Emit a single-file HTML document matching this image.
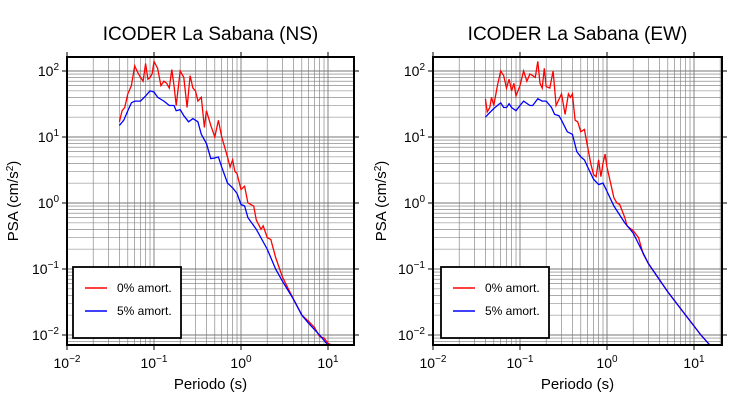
<!DOCTYPE html>
<html><head><meta charset="utf-8"><style>
body{margin:0;background:#fff;}
svg text{font-family:"Liberation Sans",sans-serif;fill:#000;}
</style></head><body>
<svg id="s" width="730" height="400" xmlns="http://www.w3.org/2000/svg"></svg>
<script>
const S=document.getElementById('s');let h='';
const YT=57,YB=345;
function ly(v){return 203-66*Math.log10(v);}
function plot(x0,x1,tx,title,red,blue,lg){
 const lx=T=>x0+87*(Math.log10(T)+2);
 const id='c'+x0;
 h+=`<clipPath id="${id}"><rect x="${x0}" y="${YT}" width="${x1-x0}" height="${YB-YT}"/></clipPath>`;
 for(let e=-2;e<=1;e++)for(let m=1;m<10;m++){const x=lx(m*Math.pow(10,e));if(x>x0&&x<x1)h+=`<line x1="${x}" y1="${YT}" x2="${x}" y2="${YB}" stroke="#777" stroke-width="${m==1?0.9:0.6}"/>`;}
 for(let e=-3;e<=2;e++)for(let m=1;m<10;m++){const y=ly(m*Math.pow(10,e));if(y>YT&&y<YB)h+=`<line x1="${x0}" y1="${y}" x2="${x1}" y2="${y}" stroke="#777" stroke-width="${m==1?0.9:0.6}"/>`;}
 for(let e=-2;e<=1;e++){const x=lx(Math.pow(10,e));h+=`<line x1="${x}" y1="${YB}" x2="${x}" y2="${YB+5}" stroke="#000"/><line x1="${x}" y1="${YT}" x2="${x}" y2="${YT-5}" stroke="#000"/>`;
  h+=`<text x="${x}" y="${YB+23}" font-size="14" text-anchor="middle">10<tspan dy="-6" font-size="10">${e<0?'−'+(-e):e}</tspan></text>`;}
 for(let e=-2;e<=2;e++){const y=ly(Math.pow(10,e));h+=`<line x1="${x0}" y1="${y}" x2="${x0-5}" y2="${y}" stroke="#000"/><line x1="${x1}" y1="${y}" x2="${x1+5}" y2="${y}" stroke="#000"/>`;
  h+=`<text x="${x0-8}" y="${y+5}" font-size="14" text-anchor="end">10<tspan dy="-6" font-size="10">${e<0?'−'+(-e):e}</tspan></text>`;}
 const path=(d,c)=>{h+=`<polyline clip-path="url(#${id})" fill="none" stroke="${c}" stroke-width="1.3" points="${d.map(p=>lx(p[0]).toFixed(1)+','+ly(p[1]).toFixed(1)).join(' ')}"/>`;};
 path(red,'#f00');path(blue,'#00f');
 h+=`<rect x="${x0}" y="${YT}" width="${x1-x0}" height="${YB-YT}" fill="none" stroke="#000" stroke-width="2"/>`;
 h+=`<rect x="${lg}" y="267" width="108" height="71" fill="#fff" stroke="#000" stroke-width="1.8"/>`;
 h+=`<line x1="${lg+12}" y1="288" x2="${lg+34}" y2="288" stroke="#f00" stroke-width="1.5"/><text x="${lg+44}" y="292" font-size="12">0% amort.</text>`;
 h+=`<line x1="${lg+12}" y1="311" x2="${lg+34}" y2="311" stroke="#00f" stroke-width="1.5"/><text x="${lg+44}" y="315" font-size="12">5% amort.</text>`;
 h+=`<text x="${(x0+x1)/2}" y="40" font-size="19" text-anchor="middle">${title}</text>`;
 h+=`<text x="${(x0+x1)/2}" y="389" font-size="15" text-anchor="middle">Periodo (s)</text>`;
 h+=`<text transform="translate(${tx},201) rotate(-90)" font-size="15" text-anchor="middle">PSA (cm/s<tspan dy="-5" font-size="10">2</tspan><tspan dy="5">)</tspan></text>`;
}
const nsR=[[0.04,17],[0.043,25],[0.046,28],[0.05,45],[0.055,60],[0.06,120],[0.065,95],[0.07,80],[0.075,70],[0.08,130],[0.085,75],[0.09,80],[0.095,90],[0.1,140],[0.11,110],[0.12,60],[0.13,70],[0.14,65],[0.15,55],[0.16,105],[0.17,60],[0.18,30],[0.2,100],[0.22,80],[0.24,28],[0.26,85],[0.28,55],[0.3,50],[0.32,35],[0.35,40],[0.38,14],[0.4,25],[0.45,15],[0.5,10],[0.55,18],[0.6,10],[0.7,5],[0.75,3.5],[0.8,4.5],[0.85,3],[0.9,2.8],[1,1.6],[1.1,1.8],[1.2,1],[1.4,0.9],[1.5,0.55],[1.7,0.4],[1.8,0.45],[2,0.3],[2.2,0.28],[2.5,0.15],[3,0.075],[4,0.035],[5,0.02],[6,0.016],[7,0.013],[8,0.0095],[9,0.009],[10,0.0075],[11,0.007],[12,0.007]];
const nsB=[[0.04,15],[0.045,18],[0.05,25],[0.055,33],[0.06,35],[0.07,35],[0.08,42],[0.09,50],[0.1,48],[0.11,40],[0.13,35],[0.15,30],[0.17,30],[0.18,25],[0.2,26],[0.22,21],[0.25,17],[0.28,19],[0.32,17],[0.35,11],[0.4,8],[0.45,4.7],[0.5,4.8],[0.55,5],[0.6,3.5],[0.7,2],[0.8,1.7],[0.9,1.4],[1,0.95],[1.1,0.9],[1.2,0.6],[1.5,0.4],[2,0.2],[2.5,0.1],[3,0.065],[4,0.035],[5,0.02],[6,0.015],[8,0.01],[10,0.007]];
const ewR=[[0.04,38],[0.042,24],[0.045,28],[0.047,40],[0.05,30],[0.055,60],[0.06,100],[0.065,85],[0.07,55],[0.075,75],[0.08,50],[0.085,65],[0.09,42],[0.1,60],[0.11,100],[0.12,70],[0.13,90],[0.14,85],[0.15,80],[0.16,140],[0.17,65],[0.18,55],[0.19,110],[0.2,58],[0.22,55],[0.24,100],[0.26,30],[0.3,45],[0.33,22],[0.36,45],[0.38,40],[0.4,45],[0.43,18],[0.46,17],[0.5,12],[0.55,13],[0.6,7],[0.65,4],[0.7,2.7],[0.75,2.5],[0.8,4.5],[0.85,2.5],[0.9,4],[0.95,5.5],[1,3.5],[1.2,1.2],[1.3,1],[1.4,0.95],[1.6,0.6],[1.7,0.45],[2,0.38],[2.3,0.3],[2.6,0.17],[3,0.12],[5,0.045],[8,0.02],[12,0.01],[15,0.0072]];
const ewB=[[0.04,20],[0.05,27],[0.06,33],[0.065,28],[0.07,28],[0.075,32],[0.08,28],[0.09,25],[0.1,30],[0.11,35],[0.13,30],[0.14,30],[0.16,38],[0.18,35],[0.2,35],[0.23,28],[0.25,22],[0.28,21],[0.3,18],[0.35,12],[0.4,11],[0.45,6],[0.5,5],[0.55,4.5],[0.6,3.5],[0.7,2.3],[0.8,1.9],[0.9,2],[1,1.5],[1.2,0.9],[1.6,0.5],[2,0.35],[3,0.12],[5,0.045],[8,0.02],[12,0.01],[15,0.0072]];
plot(67,354,18,'ICODER La Sabana (NS)',nsR,nsB,73);
plot(433,722,386,'ICODER La Sabana (EW)',ewR,ewB,441);
S.innerHTML=h;
</script>
</body></html>
